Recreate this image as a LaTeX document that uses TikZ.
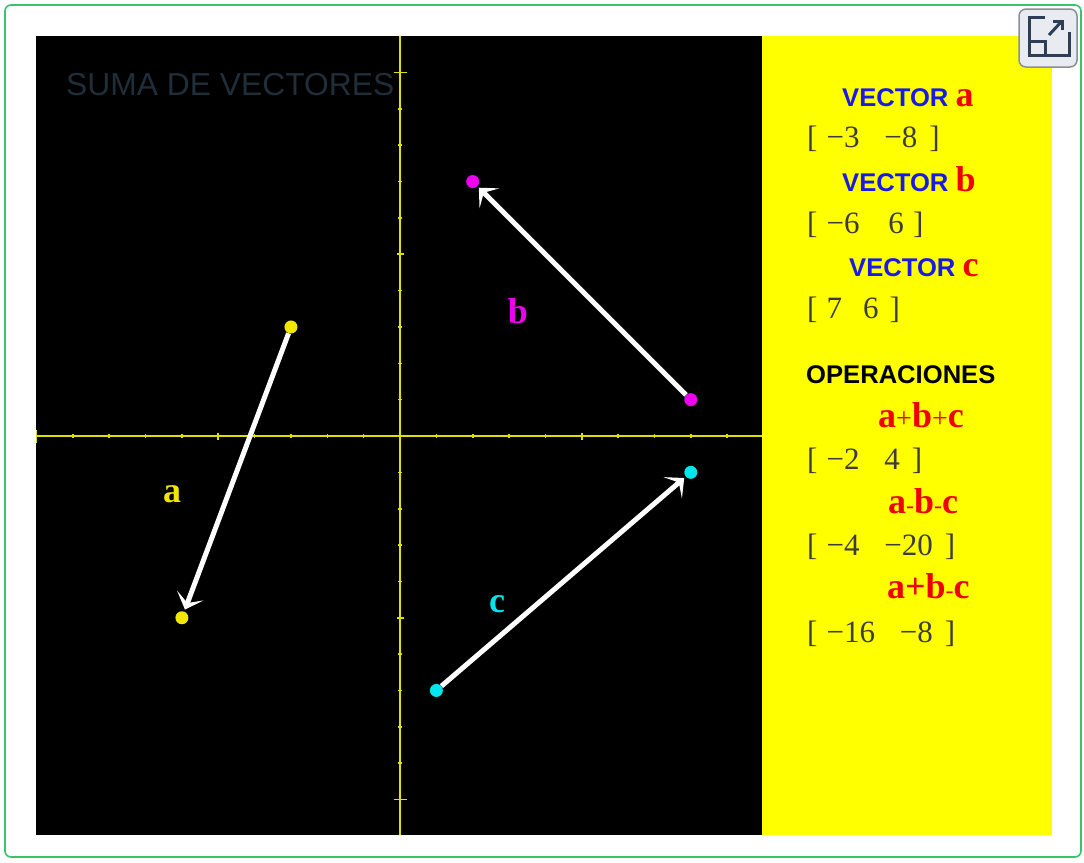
\documentclass[tikz,border=0pt]{standalone}
\usepackage{fontspec}
\setmainfont{Liberation Serif}
\setsansfont{Liberation Sans}
\usetikzlibrary{arrows.meta}
\definecolor{framegreen}{HTML}{36C46E}
\definecolor{titlegray}{HTML}{1F2E38}
\definecolor{axisyellow}{HTML}{E0E000}
\definecolor{panelyellow}{HTML}{FFFF00}
\definecolor{vblue}{HTML}{1A1AE6}
\definecolor{vred}{HTML}{F00000}
\definecolor{vgray}{HTML}{3C3C3C}
\definecolor{dotyellow}{HTML}{F2E600}
\definecolor{dotmagenta}{HTML}{F000F0}
\definecolor{dotcyan}{HTML}{00E5EE}
\definecolor{iconbg}{HTML}{E8ECF0}
\definecolor{iconedge}{HTML}{8A8F96}
\definecolor{iconnavy}{HTML}{2D3E56}
\newcommand\vecfont{\sffamily\bfseries\fontsize{25.6}{30}\selectfont}
\newcommand\letfont{\rmfamily\bfseries\fontsize{36}{40}\selectfont}
\newcommand\vpair[2]{[\hspace{9pt}#1\hspace{25pt}#2\hspace{12pt}]}
\newcommand\smop[2]{{\mdseries\fontsize{#1}{#1}\selectfont #2}}

\begin{document}
\begin{tikzpicture}[x=1pt,y=-1pt,
  axis/.style={axisyellow, line width=1.6pt},
  vecarrow/.style={white, line width=5pt, shorten >=2pt, -{Stealth[length=15pt,width=28pt,inset=8pt]}},
  dot/.style={circle, inner sep=0pt, minimum size=13pt},
  vlabel/.style={font=\letfont, inner sep=0pt},
  head/.style={anchor=base west, inner sep=0pt, text=vblue, font=\vecfont},
  coords/.style={anchor=base west, inner sep=0pt, text=vgray, font=\rmfamily\fontsize{31}{36}\selectfont},
  oper/.style={anchor=base west, inner sep=0pt, text=vred, font=\letfont},
  icon/.style={iconnavy, line width=3pt}
]
\useasboundingbox (0,0) rectangle (1084,862);
\fill[white] (0,0) rectangle (1084,862);
\draw[framegreen, line width=1.6pt, rounded corners=6pt] (5,5) rectangle (1081,857);

% panels
\fill[black] (36,36) rectangle (762,835);
\fill[panelyellow] (762,36) rectangle (1052,835);

% title
\node[anchor=base west, inner sep=0pt, text=titlegray, font=\sffamily\fontsize{31.8}{36}\selectfont] (title) at (66,95) {SUMA DE VECTORES};

% axes
\draw[axis] (36,436) -- (762,436);
\draw[axis] (400,36) -- (400,835);
\begin{scope}[shift={(400,436)}, x=36.35pt, y=36.35pt]
  \foreach \i in {-10,...,9}{
    \pgfmathsetmacro\tl{ifthenelse(mod(abs(\i),10)==0,6.5,ifthenelse(mod(abs(\i),5)==0,3.5,2))}
    \draw[axis] ([yshift=-\tl pt]\i,0) -- ([yshift=\tl pt]\i,0);
  }
  \foreach \i in {-10,...,10}{
    \pgfmathsetmacro\tl{ifthenelse(mod(abs(\i),10)==0,6.5,ifthenelse(mod(abs(\i),5)==0,3.5,2))}
    \draw[axis] ([xshift=-\tl pt]0,\i) -- ([xshift=\tl pt]0,\i);
  }
  % vector end points
  \node[dot, fill=dotyellow] (a1) at (-3,3) {};
  \node[dot, fill=dotyellow] (a2) at (-6,-5) {};
  \node[dot, fill=dotmagenta] (b1) at (8,1) {};
  \node[dot, fill=dotmagenta] (b2) at (2,7) {};
  \node[dot, fill=dotcyan] (c1) at (1,-7) {};
  \node[dot, fill=dotcyan] (c2) at (8,-1) {};
\end{scope}

% vectors
\draw[vecarrow] (a1) -- (a2);
\draw[vecarrow] (b1) -- (b2);
\draw[vecarrow] (c1) -- (c2);

% vector labels
\node[vlabel, text=dotyellow] (la) at (172,494) {a};
\node[vlabel, text=dotmagenta] (lb) at (518,311) {b};
\node[vlabel, text=dotcyan] (lc) at (497,604) {c};

% side panel
\node[head] (ha) at (842,106) {VECTOR \textcolor{vred}{\letfont a}};
\node[coords] (ca) at (807,147) {\vpair{−3}{−8}};
\node[head] (hb) at (842,191) {VECTOR \textcolor{vred}{\letfont b}};
\node[coords] (cb) at (807,233) {[\hspace{9pt}−6\hspace{29pt}6\hspace{9pt}]};
\node[head] (hc) at (849,276) {VECTOR \textcolor{vred}{\letfont c}};
\node[coords] (cc) at (807,318) {[\hspace{9pt}7\hspace{21pt}6\hspace{11pt}]};

\node[head, text=black] (ops) at (806,383) {OPERACIONES};
\node[oper] (o1) at (878,427) {a\smop{28}{+}b\smop{28}{+}c};
\node[coords] (r1) at (807,469) {\vpair{−2}{4}};
\node[oper] (o2) at (888,513) {a\smop{24}{-}b\smop{24}{-}c};
\node[coords] (r2) at (807,555) {\vpair{−4}{−20}};
\node[oper] (o3) at (887,598) {a+b\smop{24}{-}c};
\node[coords] (r3) at (807,642) {\vpair{−16}{−8}};

% expand icon
\draw[fill=iconbg, draw=iconedge, line width=1.5pt, rounded corners=7pt] (1019,9) rectangle (1077,67);
\draw[icon] (1045,17) -- (1029,17) -- (1029,55) -- (1069,55) -- (1069,32);
\draw[icon] (1029,41) -- (1045,41) -- (1045,55);
\draw[icon] (1049,35) -- (1062,21);
\draw[icon] (1053,21) -- (1062,21) -- (1062,30);
\end{tikzpicture}
\end{document}
